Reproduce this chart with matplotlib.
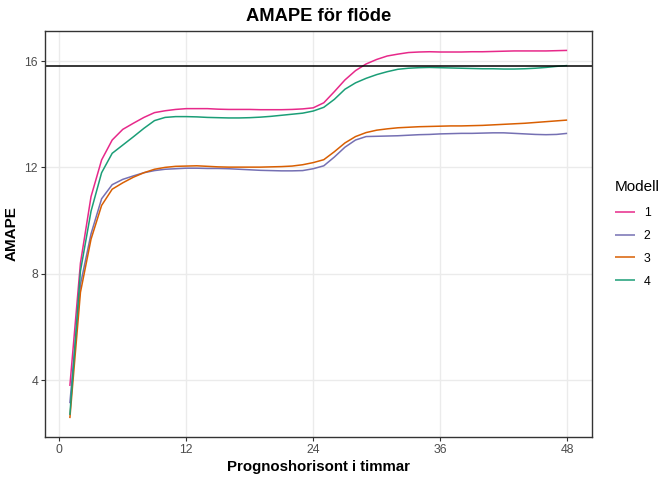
import matplotlib
matplotlib.use("Agg")
import matplotlib.pyplot as plt
import numpy as np

hours = list(range(1, 49))

modell_1 = [3.78, 8.4, 10.9, 12.28, 13.03, 13.43, 13.66, 13.88, 14.06, 14.13,
            14.18, 14.21, 14.21, 14.21, 14.19, 14.18, 14.18, 14.18, 14.17, 14.17,
            14.17, 14.18, 14.2, 14.24, 14.43, 14.85, 15.29, 15.64, 15.89, 16.06,
            16.19, 16.26, 16.32, 16.34, 16.35, 16.34, 16.34, 16.34, 16.35, 16.35,
            16.36, 16.37, 16.38, 16.38, 16.38, 16.38, 16.39, 16.4]
modell_2 = [3.13, 7.6, 9.5, 10.82, 11.35, 11.55, 11.68, 11.8, 11.88, 11.93,
            11.95, 11.97, 11.97, 11.96, 11.96, 11.95, 11.93, 11.91, 11.89, 11.88,
            11.87, 11.87, 11.88, 11.95, 12.06, 12.39, 12.76, 13.03, 13.16, 13.17,
            13.18, 13.19, 13.21, 13.23, 13.24, 13.26, 13.27, 13.28, 13.28, 13.29,
            13.3, 13.3, 13.28, 13.26, 13.24, 13.23, 13.24, 13.28]
modell_3 = [2.57, 7.3, 9.3, 10.57, 11.18, 11.42, 11.63, 11.8, 11.93, 12.0,
            12.04, 12.05, 12.06, 12.04, 12.02, 12.01, 12.01, 12.01, 12.01, 12.02,
            12.03, 12.05, 12.1, 12.18, 12.29, 12.59, 12.92, 13.16, 13.31, 13.4,
            13.45, 13.49, 13.51, 13.53, 13.54, 13.55, 13.56, 13.56, 13.57, 13.58,
            13.6, 13.62, 13.64, 13.66, 13.69, 13.72, 13.75, 13.78]
modell_4 = [2.69, 8.1, 10.35, 11.8, 12.53, 12.84, 13.15, 13.47, 13.76, 13.88,
            13.91, 13.91, 13.9, 13.88, 13.87, 13.86, 13.86, 13.87, 13.89, 13.92,
            13.96, 14.0, 14.04, 14.12, 14.26, 14.56, 14.94, 15.18, 15.35, 15.49,
            15.6, 15.69, 15.73, 15.75, 15.76, 15.75, 15.74, 15.73, 15.72, 15.71,
            15.71, 15.7, 15.7, 15.71, 15.73, 15.76, 15.8, 15.83]

series_labels = ["1", "2", "3", "4"]
series_values = [modell_1, modell_2, modell_3, modell_4]
colors = ["#E7298A", "#7570B3", "#D95F02", "#1B9E77"]
reference_level = 15.8

x_ticks = [0, 12, 24, 36, 48]
y_ticks = [4, 8, 12, 16]

plt.rcParams['font.family'] = ['Liberation Sans', 'DejaVu Sans']

fig = plt.figure(figsize=(6.72, 4.8), dpi=100)
ax = fig.add_axes([45/672, 1 - 437/480, (592-45)/672, (437-31)/480])

for lab, vals, c in zip(series_labels, series_values, colors):
    ax.plot(hours, vals, color=c, lw=1.1, label=lab, solid_capstyle='butt')

ax.axhline(reference_level, color='black', lw=1.1)

ax.set_xlim(-1.35, 50.35)
ax.set_ylim(1.86, 17.13)
ax.set_xticks(x_ticks)
ax.set_yticks(y_ticks)
ax.grid(True, color='#EBEBEB', lw=1.0)
ax.set_axisbelow(True)
for s in ax.spines.values():
    s.set_color('#333333')
    s.set_linewidth(1.0)
ax.tick_params(colors='#333333', length=3, width=0.8, labelsize=8.8,
               labelcolor='#4D4D4D', pad=2)

ax.set_title("AMAPE för flöde", fontsize=13.2, fontweight='bold', pad=7.5)
ax.set_xlabel("Prognoshorisont i timmar", fontsize=10.8, fontweight='bold', labelpad=3)
ax.set_ylabel("AMAPE", fontsize=11, fontweight='bold', labelpad=4)

leg = ax.legend(title="Modell", loc='center left', bbox_to_anchor=(1.022, 0.5),
                frameon=False, fontsize=8.8, title_fontsize=11,
                handlelength=1.6, labelspacing=0.89, handletextpad=0.75)
leg._legend_box.align = "left"
leg._legend_box.sep = 9

fig.savefig("out.png", dpi=100)
